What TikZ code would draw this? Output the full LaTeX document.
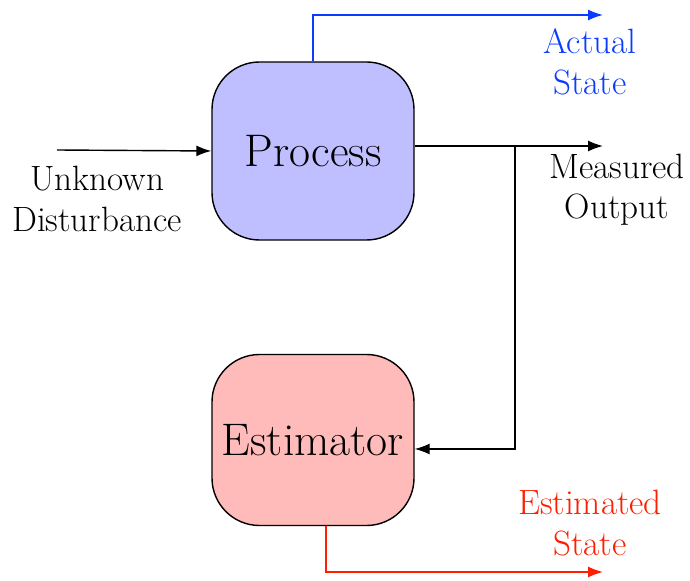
\documentclass[tikz,border=0pt]{standalone}
\usepackage{tikz}
\usetikzlibrary{arrows.meta}

\definecolor{actualblue}{RGB}{10,60,255}
\definecolor{estred}{RGB}{255,30,0}

\begin{document}
\begin{tikzpicture}[
        block/.style={draw=black, thick, rounded corners=0.95cm, minimum width=4.04cm, minimum height=3.56cm, font=\fontsize{26}{30}\selectfont},
        lbl/.style={align=center, font=\fontsize{20}{23}\selectfont},
        sig/.style={thick, -{Latex[length=0.3cm, width=0.22cm]}}
    ]
            \useasboundingbox (0,0) rectangle (13.8,11.6);

            % Bloques
            \node[block, fill=blue!25] (proc) at (6.26, 8.58) {Process};
            \node[block, fill=red!27, minimum height=3.42cm] (est) at (6.26, 2.8) {Estimator};

            % Puntos libres
            \coordinate (dist) at (1.14, 8.6);
            \coordinate (actend) at (12.06, 11.3);
            \coordinate (measend) at (12.06, 8.68);
            \coordinate (branch) at (10.3, 8.68);
            \coordinate (estend) at (12.06, 0.16);

            % Perturbacion
            \draw[sig, black] (dist) -- (proc.west);
            \node[lbl] (distlbl) at (1.94, 7.62) {Unknown\\Disturbance};

            % Estado real
            \draw[sig, actualblue] (proc.north) |- (actend);
            \node[lbl, text=actualblue] (actlbl) at (11.8, 10.36) {Actual\\State};

            % Salida medida
            \draw[sig, black] (proc.east |- measend) -- (measend);
            \draw[sig, black] (branch) |- ([yshift=-0.18cm]est.east);
            \node[lbl] (measlbl) at (12.34, 7.8) {Measured\\Output};

            % Estado estimado
            \draw[sig, estred] ([xshift=0.26cm]est.south) |- (estend);
            \node[lbl, text=estred] (estlbl) at (11.8, 1.14) {Estimated\\State};
        \end{tikzpicture}
\end{document}
